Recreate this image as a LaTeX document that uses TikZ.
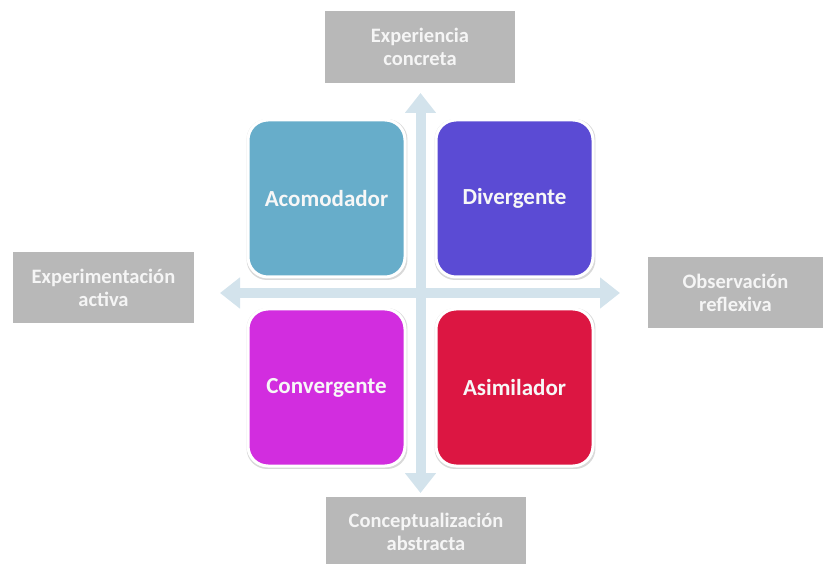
\documentclass[tikz,border=0pt]{standalone}
\usepackage{fontspec}
\setmainfont{Carlito}
\usetikzlibrary{arrows.meta,shadows}
\definecolor{graybox}{HTML}{B8B8B8}
\definecolor{arrowblue}{HTML}{D3E3EC}
\definecolor{acom}{HTML}{67ADCA}
\definecolor{diverg}{HTML}{5B4BD4}
\definecolor{converg}{HTML}{D22DDF}
\definecolor{asim}{HTML}{DC1642}
\begin{document}
\begin{tikzpicture}[x=1pt,y=-1pt,
  labelbox/.style={fill=graybox, text=white!96!black, font=\bfseries\fontsize{20.5}{23}\selectfont, align=center, inner sep=0pt},
  stylebox/.style={rounded corners=20pt, draw=white, line width=3pt, minimum width=157pt, minimum height=157pt, text=white!97!black, font=\bfseries\fontsize{23}{27}\selectfont, inner sep=0pt,
    drop shadow={opacity=0.3, shadow scale=1.025, shadow xshift=0.5pt, shadow yshift=-1pt}},
  axis/.style={arrowblue, line width=10pt, -{Triangle[width=30pt,length=20pt]}}]
\useasboundingbox (0,0) rectangle (823,564);
% gray label boxes
\node[labelbox, minimum width=190pt, minimum height=72pt] (ce) at (420,47) {Experiencia\\concreta};
\node[labelbox, minimum width=181pt, minimum height=71pt] (ea) at (103.5,287.5) {Experimentación\\activa};
\node[labelbox, minimum width=175pt, minimum height=71pt] (or) at (735.5,292.5) {Observación\\reflexiva};
\node[labelbox, minimum width=200pt, minimum height=70pt] (ca) at (426,532) {Conceptualización\\abstracta};
% axes
\coordinate (c) at (420.5,293);
\coordinate (tN) at (420.5,93);
\coordinate (tS) at (420.5,493);
\coordinate (tW) at (220,293);
\coordinate (tE) at (620,293);
\draw[axis] (c) -- (tN);
\draw[axis] (c) -- (tS);
\draw[axis] (c) -- (tW);
\draw[axis] (c) -- (tE);
% style boxes
\node[stylebox, fill=acom] (acomodador) at (326.5,198.5) {Acomodador};
\node[stylebox, fill=diverg] (divergente) at (514.5,198.5) {Divergente};
\node[stylebox, fill=converg] (convergente) at (326.5,387.5) {Convergente};
\node[stylebox, fill=asim] (asimilador) at (514.5,387.5) {Asimilador};
\end{tikzpicture}
\end{document}
